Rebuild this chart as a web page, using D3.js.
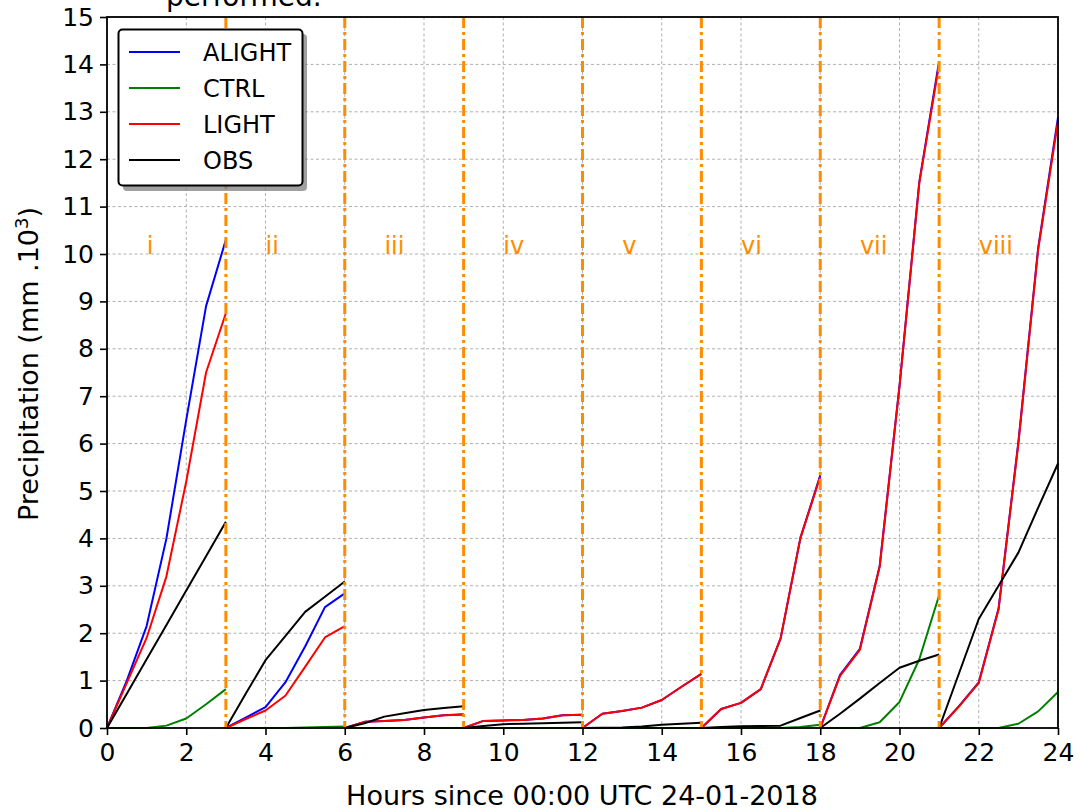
<!DOCTYPE html>
<html>
<head>
<meta charset="utf-8">
<script src="https://cdn.jsdelivr.net/npm/d3@7"></script>
<style>
  body { margin: 0; background: #fff; }
  svg { display: block; font-family: "DejaVu Sans", sans-serif; }
</style>
</head>
<body>
<svg id="chart" width="1081" height="811"></svg>
<script>
// ---- data ----
const segmentStarts = [0, 3, 6, 9, 12, 15, 18, 21];
const segmentLabels = ["i", "ii", "iii", "iv", "v", "vi", "vii", "viii"];
const stepOffsets = [0, 0.5, 1, 1.5, 2, 2.5, 3];
const xTicks = [0, 2, 4, 6, 8, 10, 12, 14, 16, 18, 20, 22, 24];
const yTicks = [0, 1, 2, 3, 4, 5, 6, 7, 8, 9, 10, 11, 12, 13, 14, 15];

const alight = [
  [0, 1.0, 2.15, 4.0, 6.5, 8.9, 10.3],
  [0, 0.22, 0.44, 0.96, 1.72, 2.55, 2.84],
  [0, 0.13, 0.15, 0.17, 0.22, 0.27, 0.29],
  [0, 0.15, 0.16, 0.17, 0.2, 0.27, 0.28],
  [0, 0.3, 0.36, 0.43, 0.59, 0.87, 1.14],
  [0, 0.4, 0.53, 0.82, 1.89, 4.01, 5.33],
  [0, 1.12, 1.67, 3.42, 7.22, 11.52, 14.07],
  [0, 0.46, 0.96, 2.52, 6.03, 10.13, 12.88]
];
const ctrl = [
  [0, 0, 0, 0.05, 0.2, 0.5, 0.82],
  [0, 0, 0, 0, 0.01, 0.02, 0.03],
  [0, 0, 0, 0, 0, 0, 0],
  [0, 0, 0, 0, 0, 0, 0],
  [0, 0, 0, 0, 0, 0, 0],
  [0, 0, 0, 0, 0, 0.02, 0.07],
  [0, 0, 0, 0.12, 0.55, 1.45, 2.8],
  [0, 0, 0, 0, 0.09, 0.35, 0.76]
];
const light = [
  [0, 0.95, 1.9, 3.2, 5.2, 7.5, 8.75],
  [0, 0.19, 0.37, 0.68, 1.29, 1.91, 2.15],
  [0, 0.13, 0.15, 0.17, 0.22, 0.27, 0.28],
  [0, 0.15, 0.16, 0.17, 0.2, 0.27, 0.28],
  [0, 0.3, 0.36, 0.43, 0.59, 0.87, 1.14],
  [0, 0.4, 0.53, 0.82, 1.89, 4.01, 5.3],
  [0, 1.1, 1.65, 3.4, 7.2, 11.5, 14.0],
  [0, 0.45, 0.95, 2.5, 6.0, 10.1, 12.8]
];
const obs = [
  [0, 0.725, 1.45, 2.175, 2.9, 3.625, 4.35],
  [0, 0.72, 1.43, 1.94, 2.45, 2.77, 3.09],
  [0, 0.1, 0.24, 0.31, 0.38, 0.42, 0.46],
  [0, 0.04, 0.08, 0.09, 0.1, 0.11, 0.12],
  [0, 0.005, 0.01, 0.03, 0.07, 0.09, 0.11],
  [0, 0.02, 0.035, 0.04, 0.05, 0.21, 0.37],
  [0, 0.3, 0.62, 0.95, 1.27, 1.42, 1.55],
  [0, 1.15, 2.3, 3.0, 3.7, 4.65, 5.58]
];

const seriesNames = ["ALIGHT", "CTRL", "LIGHT", "OBS"];
const seriesColors = ["#0000ff", "#008000", "#ff0000", "#000000"];
const seriesData = [alight, ctrl, light, obs];

// ---- layout ----
const svg = d3.select("#chart");
const L = 107, R = 1058, T = 17, B = 728;
const x = d3.scaleLinear().domain([0, 24]).range([L, R]);
const y = d3.scaleLinear().domain([0, 15]).range([B, T]);
const FS = 24;
const TFS = 25;

// clipped title fragment at the very top (cut off in the reference too)
svg.append("text").attr("x", 166).attr("y", 6)
  .attr("font-size", 28).attr("fill", "#000").text("performed.");

// grid
const grid = svg.append("g");
grid.selectAll("line.gx").data(xTicks).join("line")
  .attr("x1", d => x(d)).attr("x2", d => x(d)).attr("y1", T).attr("y2", B)
  .attr("stroke", "#b0b0b0").attr("stroke-width", 1).attr("stroke-dasharray", "3,2.5");
grid.selectAll("line.gy").data(yTicks).join("line")
  .attr("x1", L).attr("x2", R).attr("y1", d => y(d)).attr("y2", d => y(d))
  .attr("stroke", "#b0b0b0").attr("stroke-width", 1).attr("stroke-dasharray", "3,2.5");

// series lines
const line = d3.line().x(d => x(d[0])).y(d => y(d[1]));
seriesData.forEach((segs, si) => {
  segs.forEach((vals, k) => {
    const pts = vals.map((v, j) => [segmentStarts[k] + stepOffsets[j], v]);
    svg.append("path").datum(pts).attr("d", line)
      .attr("fill", "none").attr("stroke", seriesColors[si])
      .attr("stroke-width", 2).attr("stroke-linejoin", "round");
  });
});

// vertical separators
svg.selectAll("line.sep").data(segmentStarts.slice(1)).join("line")
  .attr("x1", d => x(d)).attr("x2", d => x(d)).attr("y1", T).attr("y2", B)
  .attr("stroke", "#ff8c00").attr("stroke-width", 3)
  .attr("stroke-dasharray", "11,4,3,4");

// segment labels
svg.selectAll("text.seg").data(segmentLabels).join("text")
  .attr("x", (d, i) => x(segmentStarts[i] + 1)).attr("y", y(10))
  .attr("font-size", FS).attr("fill", "#ff8c00").text(d => d);

// axes
const xAxis = d3.axisBottom(x).tickValues(xTicks).tickSize(7).tickPadding(8).tickFormat(d3.format("d"));
const yAxis = d3.axisLeft(y).tickValues(yTicks).tickSize(7).tickPadding(6).tickFormat(d3.format("d"));
const gx = svg.append("g").attr("transform", `translate(0,${B})`).call(xAxis);
const gy = svg.append("g").attr("transform", `translate(${L},0)`).call(yAxis);
[gx, gy].forEach(g => {
  g.select(".domain").remove();
  g.selectAll("line").attr("stroke", "#000").attr("stroke-width", 1.6);
  g.selectAll("text").attr("font-size", TFS).attr("fill", "#000")
    .attr("font-family", "DejaVu Sans, sans-serif");
});

// frame
svg.append("rect").attr("x", L).attr("y", T).attr("width", R - L).attr("height", B - T)
  .attr("fill", "none").attr("stroke", "#000").attr("stroke-width", 1.8);

// axis labels
svg.append("text").attr("x", 582).attr("y", 805).attr("text-anchor", "middle")
  .attr("font-size", 27).attr("fill", "#000").text("Hours since 00:00 UTC 24-01-2018");
const yl = svg.append("text").attr("transform", `translate(38,364) rotate(-90)`)
  .attr("text-anchor", "middle").attr("font-size", 27).attr("fill", "#000");
yl.append("tspan").text("Precipitation (mm .10");
yl.append("tspan").attr("dy", -10).attr("font-size", 18).text("3");
yl.append("tspan").attr("dy", 10).text(")");

// legend
const lg = svg.append("g");
lg.append("rect").attr("x", 123).attr("y", 34).attr("width", 184).attr("height", 157)
  .attr("rx", 4).attr("fill", "#808080").attr("opacity", 0.75);
lg.append("rect").attr("x", 118.5).attr("y", 29.5).attr("width", 184).attr("height", 156)
  .attr("rx", 4).attr("fill", "#fff").attr("stroke", "#000").attr("stroke-width", 2);
seriesNames.forEach((name, i) => {
  const ly = 52 + i * 36;
  lg.append("line").attr("x1", 129).attr("x2", 180).attr("y1", ly).attr("y2", ly)
    .attr("stroke", seriesColors[i]).attr("stroke-width", 2);
  lg.append("text").attr("x", 203).attr("y", ly + 9).attr("font-size", FS)
    .attr("fill", "#000").text(name);
});
</script>
</body>
</html>
